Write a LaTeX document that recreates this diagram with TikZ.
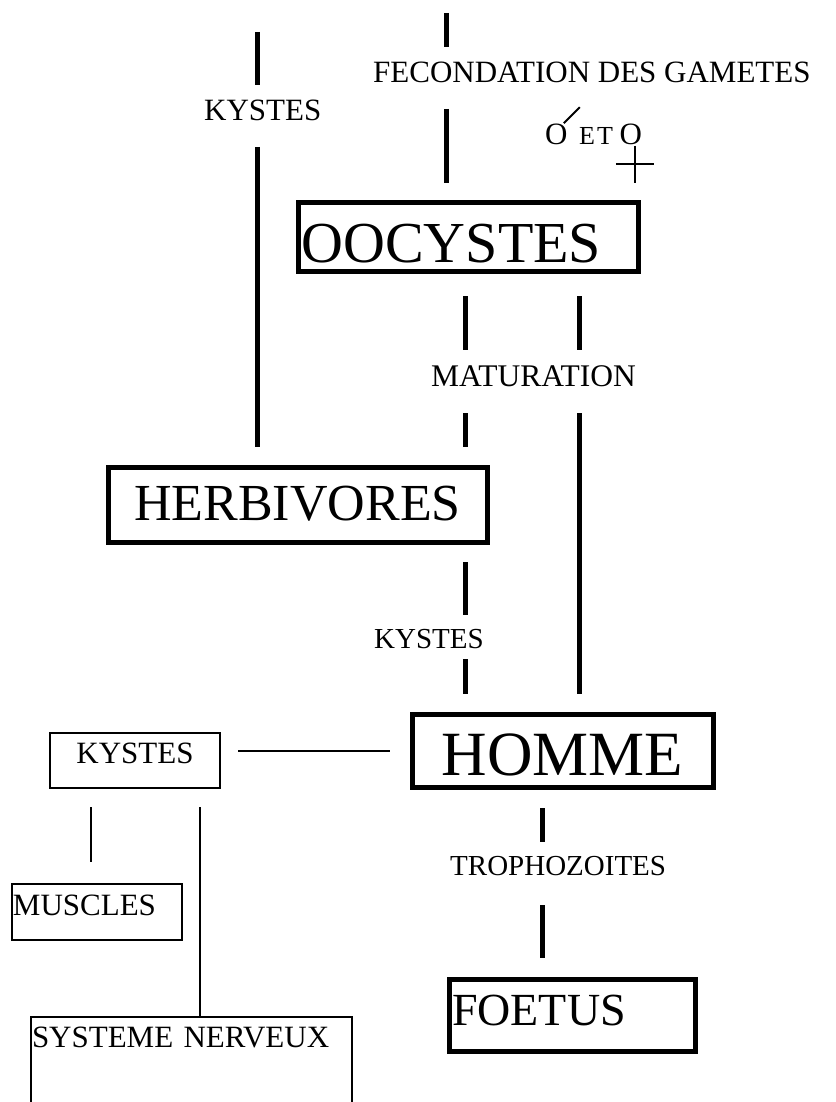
\documentclass[tikz,border=0pt]{standalone}
\usepackage{fontspec}
\setmainfont{Liberation Serif}
\usetikzlibrary{calc}
\newcommand\fsz[1]{\fontsize{#1pt}{#1pt}\selectfont}
\begin{document}
\begin{tikzpicture}[x=1pt,y=-1pt,
  thickln/.style={line width=5pt},
  thinln/.style={line width=2pt},
  lbl/.style={inner sep=0pt, anchor=base west},
  bigbox/.style={draw, line width=5pt, inner sep=0pt, anchor=base west},
  smallbox/.style={draw, line width=2pt, inner sep=0pt, anchor=base west}]
\useasboundingbox (0,0) rectangle (835,1102);

% boxes
\node[bigbox, text width=340pt, align=left, text height=59.5pt, text depth=9.5pt, font={\fsz{58}}] (oo) at (295.5,262) {\hspace*{3.5pt}OOCYSTES};
\node[bigbox, text width=379pt, align=center, text height=52.5pt, text depth=22.5pt, font={\fsz{52}}] (herb) at (105.5,520) {HERBIVORES};
\node[bigbox, text width=301pt, align=center, text height=60.5pt, text depth=12.5pt, font={\fsz{63}}] (homme) at (409.5,775) {HOMME};
\node[bigbox, text width=246pt, align=left, text height=45.5pt, text depth=26.5pt, font={\fsz{46}}] (foetus) at (446.5,1025) {\hspace*{3pt}FOETUS};
\node[smallbox, text width=170pt, align=center, text height=30pt, text depth=25pt, font={\fsz{31}}] (kb) at (49,763) {KYSTES};
\node[smallbox, text width=170pt, align=left, text height=31pt, text depth=25pt, font={\fsz{31}}] (musc) at (11,915) {\hspace*{1pt}MUSCLES};
\node[smallbox, text width=321pt, align=left, text height=30pt, text depth=70pt, font={\fsz{31}}] (sn) at (30,1047) {\hspace*{1pt}SYSTEME NERVEUX};

% labels
\node[lbl, font={\fsz{31}}] (fec) at (373,83) {FECONDATION DES GAMETES};
\node[lbl, font={\fsz{31}}] (k1) at (204,121) {KYSTES};
\node[lbl, font={\fsz{31.5}}] (mat) at (431,386) {MATURATION};
\node[lbl, font={\fsz{29}}] (k2) at (374,648) {KYSTES};
\node[lbl, font={\fsz{29}}] (tro) at (450,875) {TROPHOZOITES};

% gamete symbols
\node[lbl, font={\fsz{31}}] (male) at (545,145) {O};
\node[lbl, font={\fsz{26}}] (et) at (579,145) {E\kern2ptT};
\node[lbl, font={\fsz{31}}] (fem) at (619.5,145) {O};
\draw[thinln] ($(male.north east)+(-4,-1)$) -- ++(16,-16);
\draw[thinln] ($(fem.south)+(4,0)$) -- ++(0,37);
\draw[thinln] ($(fem.south)+(-15,18)$) -- ++(38,0);

% coordinates for broken connectors
\coordinate (a1) at (446,13);  \coordinate (a2) at (446,47);
\coordinate (a3) at (446,109); \coordinate (a4) at (446,183);
\coordinate (b1) at (257,32);  \coordinate (b2) at (257,85);
\coordinate (b3) at (257,147); \coordinate (b4) at (257,447);
\coordinate (c1) at (465,296); \coordinate (c2) at (465,350);
\coordinate (c3) at (465,413); \coordinate (c4) at (465,447);
\coordinate (d1) at (579,296); \coordinate (d2) at (579,350);
\coordinate (d3) at (579,413); \coordinate (d4) at (579,694);
\coordinate (e1) at (465,562); \coordinate (e2) at (465,615);
\coordinate (e3) at (465,659); \coordinate (e4) at (465,694);
\coordinate (f1) at (542,808); \coordinate (f2) at (542,842);
\coordinate (f3) at (542,905); \coordinate (f4) at (542,958);
\coordinate (g1) at (238,751); \coordinate (g2) at (390,751);
\coordinate (h1) at (91,807);  \coordinate (h2) at (91,862);
\coordinate (i1) at (200,807);

\draw[thickln] (a1) -- (a2);
\draw[thickln] (a3) -- (a4);
\draw[thickln] (b1) -- (b2);
\draw[thickln] (b3) -- (b4);
\draw[thickln] (c1) -- (c2);
\draw[thickln] (c3) -- (c4);
\draw[thickln] (d1) -- (d2);
\draw[thickln] (d3) -- (d4);
\draw[thickln] (e1) -- (e2);
\draw[thickln] (e3) -- (e4);
\draw[thickln] (f1) -- (f2);
\draw[thickln] (f3) -- (f4);
\draw[thinln] (g1) -- (g2);
\draw[thinln] (h1) -- (h2);
\draw[thinln] (i1) -- (i1 |- sn.north);
\end{tikzpicture}
\end{document}
